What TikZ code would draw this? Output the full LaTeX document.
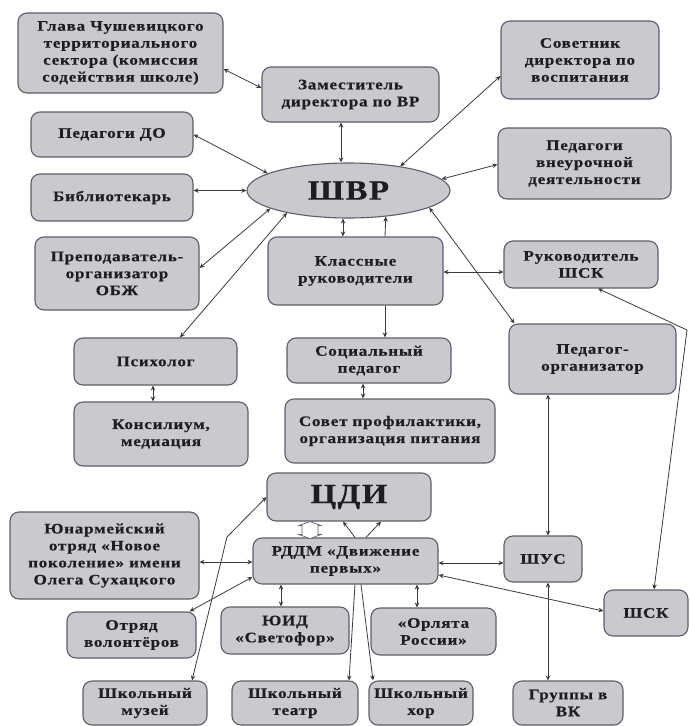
\documentclass[tikz,border=0pt]{standalone}
\usepackage{fontspec}
\setmainfont{Liberation Serif}[FakeStretch=1.18,LetterSpace=5,BoldFeatures={FakeBold=0.4}]
\usepackage{tikz}
\usetikzlibrary{arrows.meta,positioning,calc,shapes.geometric}
\definecolor{boxc}{HTML}{C9C9CF}
\definecolor{edgec}{HTML}{5E5E66}
\definecolor{linec}{HTML}{3A3A3E}
\definecolor{txtc}{HTML}{1E1E22}
\tikzset{
  >={Stealth[length=5pt,width=4.5pt]},
  unit/.style={draw=edgec,line width=1.1pt,fill=boxc,rounded corners=9pt,inner sep=0pt,align=center,text=txtc,font=\bfseries\fontsize{14.5}{17}\selectfont},
  hub/.style={draw=edgec,line width=1.1pt,fill=boxc,ellipse,inner sep=0pt,text=txtc,font=\bfseries\fontsize{28}{30}\selectfont},
  big/.style={font=\bfseries\fontsize{28}{30}\selectfont},
  link/.style={<->,draw=linec,line width=0.8pt},
  flow/.style={->,draw=linec,line width=0.8pt},
  hollowarr/.style={draw=edgec,fill=white,line width=0.7pt,line join=miter},
}
\newcommand{\unitbox}[6][]{%
  \pgfmathsetmacro\bw{#5}\pgfmathsetmacro\bh{#6}%
  \node[unit,#1,minimum width=\bw pt,minimum height=\bh pt] (#2) at (#3) {#4};}

\begin{document}
\begin{tikzpicture}[x=1pt,y=-1pt]
  \useasboundingbox (0,0) rectangle (689,726);
  \unitbox{glava}{120.5,53}{Глава Чушевицкого\\территориального\\сектора (комиссия\\содействия школе)}{205}{80}
  \unitbox{zam}{350.5,94.5}{Заместитель\\директора по ВР}{177}{55}
  \unitbox{sovetnik}{580,60}{Советник\\директора по\\воспитания}{158}{78}
  \unitbox{pedDO}{112,134.5}{Педагоги ДО}{162}{45}
  \unitbox{bibl}{112,197.5}{Библиотекарь}{162}{47}
  \node[hub,minimum width=203pt,minimum height=55pt] (shvr) at (348.5,190.5) {ШВР};
  \unitbox{vneur}{584.5,163.5}{Педагоги\\внеурочной\\деятельности}{173}{71}
  \unitbox{obzh}{117,273.5}{Преподаватель-\\организатор\\ОБЖ}{164}{73}
  \unitbox{klass}{355.5,271}{Классные\\руководители}{175}{68}
  \unitbox{rukShsk}{581,264.5}{Руководитель\\ШСК}{154}{47}
  \unitbox{psih}{155.5,361.5}{Психолог}{163}{47}
  \unitbox{socped}{369,360.5}{Социальный\\педагог}{164}{45}
  \unitbox{pedorg}{592.5,359}{Педагог-\\организатор}{167}{70}
  \unitbox{konsil}{161,434}{Консилиум,\\медиация}{174}{64}
  \unitbox{sovet}{390,431}{Совет профилактики,\\организация питания}{210}{64}
  \unitbox[big]{cdi}{349,497}{ЦДИ}{164}{48}
  \unitbox{rddm}{345.5,561}{РДДМ «Движение\\первых»}{185}{46}
  \unitbox{yunarm}{104.5,555.5}{Юнармейский\\отряд «Новое\\поколение» имени\\Олега Сухацкого}{189}{87}
  \unitbox{volont}{131.5,635}{Отряд\\волонтёров}{129}{46}
  \unitbox{yuid}{285,630.5}{ЮИД\\«Светофор»}{128}{47}
  \unitbox{orlyata}{433.5,631.5}{«Орлята\\России»}{125}{47}
  \unitbox{shus}{543,559}{ШУС}{78}{46}
  \unitbox{shsk}{646,613}{ШСК}{84}{46}
  \unitbox{muzei}{145,703}{Школьный\\музей}{124}{44}
  \unitbox{teatr}{295,703}{Школьный\\театр}{126}{44}
  \unitbox{hor}{421,703}{Школьный\\хор}{104}{44}
  \unitbox{vk}{568,703}{Группы в\\ВК}{110}{44}
  \draw[link] ([yshift=-16pt]glava.east) -- ([yshift=6.5pt]zam.west);
  \draw[link] ([xshift=-9.5pt]zam.south) -- ([xshift=-7.5pt]shvr.north);
  \draw[link] (pedDO.east) -- (shvr.168);
  \draw[link] ([yshift=7pt]bibl.east) -- (shvr.west);
  \draw[link] ([yshift=-16pt]sovetnik.west) -- (shvr.25);
  \draw[link] ([yshift=-1pt]vneur.west) -- (shvr.7);
  \draw[link] ([yshift=5.5pt]obzh.east) -- (shvr.193);
  \draw[link] ([xshift=24.5pt]psih.north) -- (shvr.200);
  \draw[link] ([xshift=-5.5pt]shvr.south) -- ([xshift=-12.5pt]klass.north);
  \draw[flow] ([xshift=29.5pt]klass.north) -- (shvr.-35);
  \draw[link] ([yshift=-1pt]klass.east) -- ([yshift=-7.5pt]rukShsk.west);
  \draw[link] (shvr.-12) -- ([xshift=6pt]pedorg.north west);
  \draw[flow] ([xshift=29.5pt]klass.south) -- ([xshift=16pt]socped.north);
  \draw[link] ([xshift=-6pt]socped.south) -- ([xshift=-27pt]sovet.north);
  \draw[link] ([xshift=-2.5pt]psih.south) -- ([xshift=-8pt]konsil.north);
  \coordinate (bendShsk) at (687,330);
  \draw[link] ([xshift=17pt]rukShsk.south) -- (bendShsk) -- ([xshift=8pt]shsk.north);
  \draw[link] ([xshift=-44.5pt]pedorg.south) -- ([xshift=5pt]shus.north);
  \draw[link] ([xshift=5pt]shus.south) -- ([xshift=-20pt]vk.north);
  \draw[link] ([yshift=-2pt]rddm.east) -- ([yshift=-4pt]shus.west);
  \draw[link] ([yshift=-14pt]rddm.east) -- ([yshift=2pt]shsk.west);
  \draw[link] ([xshift=71.5pt]rddm.south) -- ([xshift=-16.5pt]orlyata.north);
  \draw[link] ([xshift=-64.5pt]rddm.south) -- ([xshift=-4pt]yuid.north);
  \draw[flow] ([xshift=9.5pt]rddm.south) -- ([xshift=54pt]teatr.north);
  \draw[flow] ([xshift=15.5pt]rddm.south) -- ([xshift=-48pt]hor.north);
  \draw[flow] ([xshift=9.5pt]rddm.north) -- ([xshift=-6pt]cdi.south);
  \draw[flow] ([xshift=20.5pt]rddm.north) -- ([xshift=32pt]cdi.south);
  \coordinate (cdiLink) at ([xshift=-39pt]cdi.south);
  \draw[hollowarr] (cdiLink) -- ++(11,4) -- ++(-3,0) -- ++(0,9) -- ++(3,0) -- ++(-11,4)
    -- ++(-11,-4) -- ++(3,0) -- ++(0,-9) -- ++(-3,0) -- cycle;
  \draw[link] ([yshift=-6.5pt]yunarm.east) -- ([yshift=-1pt]rddm.west);
  \draw[link] ([xshift=-7pt]volont.north east) -- ([yshift=-16pt]rddm.west);
  \coordinate (bendMuz) at (227,537);
  \draw[link] ([xshift=47pt]muzei.north) -- (bendMuz) -- (cdi.west);
\end{tikzpicture}
\end{document}
